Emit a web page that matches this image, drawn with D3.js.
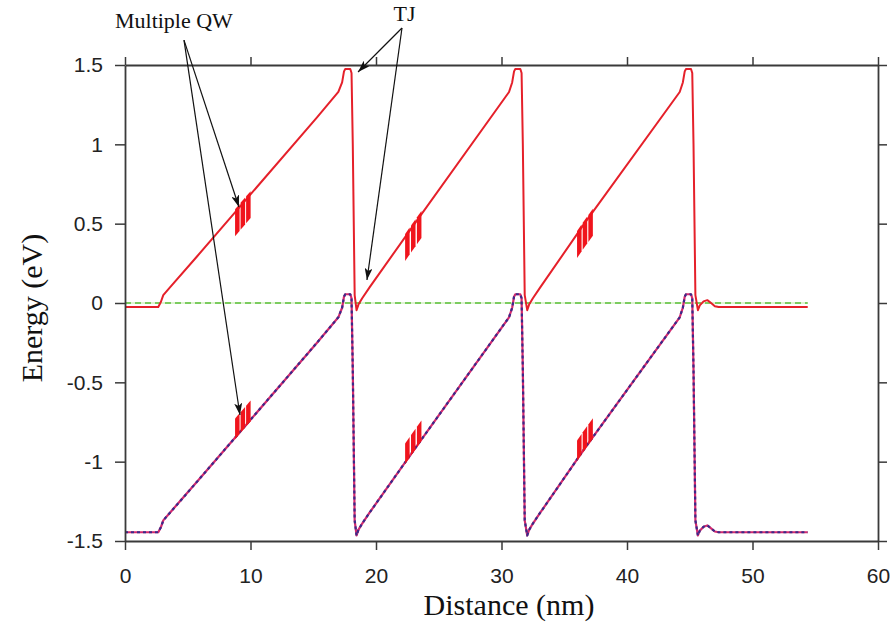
<!DOCTYPE html>
<html>
<head>
<meta charset="utf-8">
<script src="https://cdn.jsdelivr.net/npm/d3@7/dist/d3.min.js"></script>
<style>
  html, body { margin: 0; padding: 0; background: #fff; }
  svg { display: block; }
</style>
</head>
<body>
<svg id="chart" width="896" height="622"></svg>
<script>
// Band diagram of a cascaded multi-junction structure: conduction band,
// valence band and Fermi level versus position.

// Position along the structure (nm)
const positionNm = [
  0, 2.65, 2.85, 3.05, 3.6, 5.7, 9.3, 15.3, 17.0, 17.3, 17.45, 17.55, 17.95, 18.05, 18.15, 18.3, 18.45, 18.6, 18.9, 19.5,
  22.9, 30.6, 30.85, 31.0, 31.1, 31.5, 31.6, 31.7, 31.85, 32.05, 32.2, 32.5, 33.1,
  36.6, 44.2, 44.45, 44.6, 44.7, 45.1, 45.2, 45.3, 45.45, 45.65, 45.8, 46.1, 46.4, 46.7, 47.0, 47.3, 54.4
];

// Conduction band edge (eV)
const conductionEv = [
  -0.025, -0.025, 0.005, 0.05, 0.10, 0.29, 0.62, 1.17, 1.33, 1.39, 1.46, 1.475, 1.475, 1.45, 1.0, 0.05, -0.045, -0.01, 0.03, 0.10,
  0.48, 1.33, 1.39, 1.46, 1.475, 1.475, 1.45, 1.0, 0.05, -0.045, -0.01, 0.03, 0.10,
  0.50, 1.33, 1.39, 1.46, 1.475, 1.475, 1.45, 1.0, 0.05, -0.045, -0.015, 0.01, 0.018, 0.0, -0.02, -0.025, -0.025
];

// Valence band edge (eV)
const valenceEv = [
  -1.445, -1.445, -1.415, -1.37, -1.32, -1.13, -0.80, -0.25, -0.09, -0.03, 0.04, 0.055, 0.055, 0.03, -0.42, -1.37, -1.465, -1.43, -1.39, -1.32,
  -0.94, -0.09, -0.03, 0.04, 0.055, 0.055, 0.03, -0.42, -1.37, -1.465, -1.43, -1.39, -1.32,
  -0.92, -0.09, -0.03, 0.04, 0.055, 0.055, 0.03, -0.42, -1.37, -1.465, -1.435, -1.41, -1.402, -1.42, -1.44, -1.445, -1.445
];

// Fermi level (eV)
const fermiNm = [0, 54.4];
const fermiEv = [0, 0];

// Quantum well centres (nm), three wells per absorber
const wellCentresNm = [8.95, 9.39, 9.83, 22.5, 22.97, 23.44, 36.2, 36.65, 37.1];
const wellWidthNm = 0.36;
// Well extent relative to the band edge (eV)
const cbWellAbove = 0.02, cbWellBelow = 0.15;
const vbWellBelow = 0.01, vbWellAbove = 0.12;

// Axis ticks
const xTicks = [0, 10, 20, 30, 40, 50, 60];
const yTicks = [-1.5, -1, -0.5, 0, 0.5, 1, 1.5];

// Annotations (data coordinates)
const annotations = [
  { text: "Multiple QW", x: -0.8, y: 1.733, from: [4.7, 1.657], to: [[9.08, 0.605], [9.16, -0.706]] },
  { text: "TJ", x: 21.4, y: 1.775, from: [22.07, 1.733], to: [[18.57, 1.456], [19.28, 0.145]] }
];

const svg = d3.select("#chart");
const x = d3.scaleLinear().domain([0, 60]).range([125, 878]);
const y = d3.scaleLinear().domain([-1.5, 1.5]).range([541, 65]);

const cbAt = d3.scaleLinear().domain(positionNm).range(conductionEv);
const vbAt = d3.scaleLinear().domain(positionNm).range(valenceEv);

const line = d3.line().x(d => x(d[0])).y(d => y(d[1]));
const cbData = positionNm.map((p, i) => [p, conductionEv[i]]);
const vbData = positionNm.map((p, i) => [p, valenceEv[i]]);
const efData = fermiNm.map((p, i) => [p, fermiEv[i]]);

// Fermi level
svg.append("path").datum(efData).attr("d", line)
  .attr("fill", "none").attr("stroke", "#bfe8a8").attr("stroke-width", 1.2);
svg.append("path").datum(efData).attr("d", line)
  .attr("fill", "none").attr("stroke", "#5cc03a").attr("stroke-width", 1.4)
  .attr("stroke-dasharray", "6,4");

// Valence band: solid line with dashed overlay
svg.append("path").datum(vbData).attr("d", line)
  .attr("fill", "none").attr("stroke", "#d42a6e").attr("stroke-width", 2.2)
  .attr("stroke-linejoin", "round");
svg.append("path").datum(vbData).attr("d", line)
  .attr("fill", "none").attr("stroke", "#3a2a8a").attr("stroke-width", 2.2)
  .attr("stroke-dasharray", "3,3").attr("stroke-linejoin", "round");

// Conduction band
svg.append("path").datum(cbData).attr("d", line)
  .attr("fill", "none").attr("stroke", "#e5202a").attr("stroke-width", 2)
  .attr("stroke-linejoin", "round");

// Quantum wells drawn along each band edge
function wellPath(c, at, up, down) {
  const a = c - wellWidthNm / 2, b = c + wellWidthNm / 2;
  return "M" + x(a) + "," + y(at(a) + up) +
         "L" + x(b) + "," + y(at(b) + up) +
         "L" + x(b) + "," + y(at(b) - down) +
         "L" + x(a) + "," + y(at(a) - down) + "Z";
}
svg.append("g").selectAll("path.cbw").data(wellCentresNm).join("path")
  .attr("d", c => wellPath(c, cbAt, cbWellAbove, cbWellBelow))
  .attr("fill", "#f0141c");
svg.append("g").selectAll("path.vbw").data(wellCentresNm).join("path")
  .attr("d", c => wellPath(c, vbAt, vbWellAbove, vbWellBelow))
  .attr("fill", "#f0141c");

// Frame with outward ticks on all four sides
const axisColor = "#3a3a3a";
function styleAxis(g, fontSize) {
  g.select(".domain").attr("stroke", axisColor).attr("stroke-width", 1.8);
  g.selectAll(".tick line").attr("stroke", axisColor).attr("stroke-width", 1.5);
  g.selectAll(".tick text").attr("fill", "#222")
    .attr("font-family", "'Liberation Sans', Arial, sans-serif")
    .attr("font-size", fontSize);
}
svg.append("g").attr("transform", "translate(0,541)")
  .call(d3.axisBottom(x).tickValues(xTicks).tickSize(9).tickSizeOuter(0).tickPadding(18))
  .call(g => styleAxis(g, 21));
svg.append("g").attr("transform", "translate(0,65)")
  .call(d3.axisTop(x).tickValues(xTicks).tickSize(8).tickSizeOuter(0).tickFormat(""))
  .call(g => styleAxis(g, 21));
svg.append("g").attr("transform", "translate(125,0)")
  .call(d3.axisLeft(y).tickValues(yTicks).tickSize(10).tickSizeOuter(0).tickPadding(12)
    .tickFormat(d => String(d)))
  .call(g => styleAxis(g, 21));
svg.append("g").attr("transform", "translate(878,0)")
  .call(d3.axisRight(y).tickValues(yTicks).tickSize(9).tickSizeOuter(0).tickFormat(""))
  .call(g => styleAxis(g, 21));

// Axis titles
svg.append("text")
  .attr("transform", "translate(42,308) rotate(-90)")
  .attr("text-anchor", "middle")
  .attr("font-family", "'Liberation Serif', 'Times New Roman', serif")
  .attr("font-size", 30).attr("fill", "#111")
  .text("Energy (eV)");
svg.append("text")
  .attr("x", 509).attr("y", 615)
  .attr("text-anchor", "middle")
  .attr("font-family", "'Liberation Serif', 'Times New Roman', serif")
  .attr("font-size", 30).attr("fill", "#111")
  .text("Distance (nm)");

// Annotation arrows
svg.append("defs").append("marker")
  .attr("id", "head").attr("viewBox", "0 0 12 8")
  .attr("refX", 12).attr("refY", 4)
  .attr("markerWidth", 12).attr("markerHeight", 8)
  .attr("markerUnits", "userSpaceOnUse").attr("orient", "auto")
  .append("path").attr("d", "M0,0 L12,4 L0,8 L3,4 Z").attr("fill", "#111");

annotations.forEach(a => {
  svg.append("text")
    .attr("x", x(a.x)).attr("y", y(a.y))
    .attr("font-family", "'Liberation Serif', 'Times New Roman', serif")
    .attr("font-size", 22).attr("fill", "#111")
    .text(a.text);
  a.to.forEach(t => {
    svg.append("line")
      .attr("x1", x(a.from[0])).attr("y1", y(a.from[1]))
      .attr("x2", x(t[0])).attr("y2", y(t[1]))
      .attr("stroke", "#111").attr("stroke-width", 1.2)
      .attr("marker-end", "url(#head)");
  });
});
</script>
</body>
</html>
